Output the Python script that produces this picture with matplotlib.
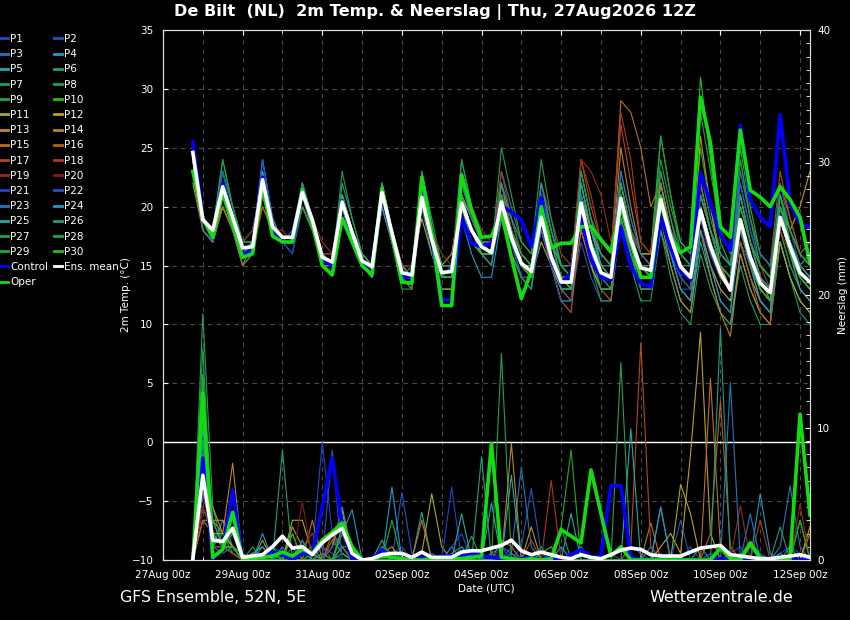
# GFS ensemble meteogram: 2m temperature + precipitation, De Bilt
import numpy as np
import pandas as pd
import matplotlib
matplotlib.use("Agg")
import matplotlib.pyplot as plt
import matplotlib.dates as mdates
from matplotlib.ticker import MultipleLocator


def vals(s):
    # "a | b c d e | ..." -> list of floats (| only separates days)
    return [float(v) for v in s.replace("|", " ").split()]


# 6-hourly forecast steps, 27Aug 18Z .. 12Sep 06Z
times = pd.date_range("2026-08-27 18:00", periods=63, freq="6h")

mean_temp = vals("""24.6 | 18.9 18.0 21.7 19.1 | 16.5 16.6 22.3 18.3 | 17.4 17.4 21.2 18.9 |
 15.7 15.3 20.4 17.8 | 15.4 14.9 21.2 17.8 | 14.4 14.2 20.8 17.2 | 14.4 14.5 20.3 18.0 |
 16.6 16.1 20.4 17.4 | 15.2 14.5 19.1 15.7 | 13.6 13.6 20.3 16.6 | 14.4 14.0 20.7 17.2 |
 14.8 14.6 20.6 17.4 | 14.9 14.0 19.7 16.6 | 14.4 12.9 18.9 15.7 | 13.5 12.7 19.1 16.6 | 14.4 13.6""")

control_temp = vals("""25.5 | 19.0 17.5 22.0 19.0 | 16.0 16.3 22.5 18.0 | 17.0 17.0 21.5 18.5 |
 15.5 15.0 20.5 17.5 | 15.0 14.8 21.0 17.5 | 14.0 14.0 21.5 17.0 | 12.1 12.1 19.1 16.9 |
 16.6 16.9 20.1 19.5 | 18.9 16.6 20.8 15.5 | 13.5 14.4 19.1 15.5 | 14.0 13.8 18.3 14.9 |
 13.5 13.2 19.1 16.5 | 14.5 13.8 22.9 20.3 | 17.6 16.3 26.9 20.6 | 19.1 18.3 27.8 20.3 | 18.6 18.2""")

oper_temp = vals("""23.0 | 19.0 17.4 21.2 18.5 | 15.7 16.0 21.8 17.5 | 17.0 17.0 21.5 18.5 |
 15.0 14.2 19.0 17.0 | 15.0 14.2 21.6 17.5 | 13.6 13.5 22.5 17.8 | 11.6 11.6 22.7 19.7 |
 17.4 17.5 19.5 15.7 | 12.2 14.5 20.0 16.5 | 16.9 16.9 18.3 18.3 | 17.2 16.2 20.0 17.0 |
 14.0 14.0 20.8 17.4 | 16.1 16.6 29.3 25.4 | 18.3 17.4 26.5 21.4 | 20.8 20.0 21.7 20.6 | 19.1 15.2""")

mean_prec = vals("""0.1 | 6.4 1.5 1.4 2.4 | 0.2 0.3 0.4 1.0 | 1.8 0.9 1.0 0.4 | 1.3 1.9 2.4 0.5 |
 0.0 0.1 0.4 0.5 | 0.5 0.2 0.6 0.2 | 0.2 0.2 0.6 0.7 | 0.7 0.9 1.1 1.5 | 0.7 0.4 0.6 0.4 |
 0.2 0.1 0.4 0.2 | 0.1 0.4 0.75 0.9 | 0.8 0.4 0.3 0.3 | 0.3 0.6 0.9 1.0 | 1.1 0.4 0.3 0.2 |
 0.1 0.1 0.2 0.3 | 0.4 0.2""")

control_prec = vals("""0 | 7.7 0.1 0.8 5.3 | 0 0 0.3 0.6 | 0.4 0 0.5 0.4 | 4.0 7.7 2.5 0 |
 0 0 0.8 0.2 | 0.1 0 0.2 0 | 0.3 0.3 0.4 0.5 | 0.3 0.2 0.1 0 | 0.1 0.2 0 0.2 |
 0 0.4 0.8 0.2 | 0.3 5.6 5.6 0.2 | 0 0 0.1 0 | 0 0 0 0 | 0.1 0 0 0 | 0 0 0 0 | 0 0.1""")

oper_prec = vals("""0 | 12.6 0.2 0.8 3.6 | 0 0.1 0.2 0.3 | 0.6 0.3 0.8 0.5 | 1.5 2.1 2.8 1.0 |
 0 0 0.3 0.2 | 0.1 0 0 0.1 | 0 0.1 0.1 0.2 | 0.3 8.8 0.2 0.1 | 0 0.1 0 0.1 |
 2.3 1.8 1.3 6.8 | 3.5 0.3 1.0 0 | 0 0 0 0 | 0 0 0 0 | 0.9 0.1 0 1.3 | 0.2 0 0 0.1 | 11.0 3.4""")

member_temp = [vals(s) for s in [
    "25 | 19 18 23 19 | 16 17 23 18 | 17 17 21 19 | 16 15 21 18 | 15 15 22 18 | 14 14 21 17 | 14 15 20 18 | 17 17 22 19 | 16 15 20 16 | 13 13 20 17 | 15 14 22 18 | 15 14 19 16 | 13 13 18 15 | 13 12 17 15 | 12 11 18 15 | 13 12",
    "25 | 19 18 22 19 | 16 16 22 19 | 17 18 22 19 | 16 15 21 18 | 16 15 21 17 | 14 13 20 17 | 15 15 21 19 | 17 16 21 18 | 15 14 18 15 | 12 12 17 14 | 12 12 19 16 | 14 14 21 18 | 15 14 20 17 | 14 13 19 16 | 14 13 20 17 | 15 14",
    "24 | 18 17 21 18 | 15 16 24 19 | 17 16 20 18 | 15 15 19 17 | 15 14 22 18 | 15 14 22 18 | 14 14 21 18 | 16 16 23 20 | 17 16 22 18 | 15 15 22 18 | 15 15 23 19 | 16 15 22 18 | 15 14 21 18 | 15 13 19 16 | 13 12 20 17 | 14 13",
    "25 | 19 18 22 19 | 16 17 24 19 | 17 17 21 19 | 15 15 21 18 | 16 15 21 18 | 14 14 22 17 | 13 13 19 16 | 14 14 19 17 | 14 13 20 17 | 15 15 21 18 | 16 15 20 17 | 15 14 21 17 | 15 15 22 18 | 15 14 20 17 | 15 14 21 17 | 15 16",
    "24 | 19 17 20 18 | 15 17 21 18 | 17 17 22 19 | 16 15 20 17 | 15 15 21 17 | 14 13 21 17 | 15 15 22 19 | 17 16 22 18 | 15 15 21 17 | 14 14 21 17 | 14 13 20 16 | 13 13 18 15 | 12 11 17 14 | 11 10 16 13 | 11 10 17 14 | 12 11",
    "25 | 19 18 24 20 | 17 18 22 18 | 17 17 21 19 | 16 15 22 19 | 16 15 22 18 | 15 14 23 19 | 15 15 24 20 | 18 17 21 18 | 15 14 18 15 | 13 13 19 15 | 13 13 20 17 | 14 14 22 18 | 15 15 23 19 | 16 15 22 18 | 15 14 21 18 | 16 15",
    "24 | 18 17 22 19 | 16 16 23 18 | 17 17 21 18 | 16 15 21 17 | 15 15 20 17 | 14 14 20 16 | 14 14 20 17 | 16 16 20 17 | 14 13 19 15 | 12 12 19 15 | 12 12 19 15 | 12 12 18 14 | 11 10 16 13 | 11 10 15 12 | 10 10 17 14 | 11 10",
    "25 | 19 18 21 19 | 16 16 22 18 | 17 17 21 19 | 16 16 20 18 | 16 15 21 18 | 14 15 20 17 | 14 14 19 17 | 16 16 21 19 | 16 15 20 17 | 15 15 23 19 | 17 16 22 18 | 16 16 24 20 | 17 16 22 18 | 15 14 20 17 | 15 14 19 16 | 14 13",
    "25 | 19 18 23 20 | 17 18 22 18 | 17 17 22 19 | 16 15 21 18 | 15 14 21 17 | 13 13 21 17 | 14 14 20 18 | 17 16 20 17 | 15 14 19 16 | 14 14 20 16 | 14 14 21 17 | 15 15 20 17 | 15 15 25 20 | 16 15 21 17 | 14 13 18 15 | 13 12",
    "24 | 19 18 21 18 | 16 16 21 18 | 17 17 20 18 | 16 15 19 17 | 15 15 21 18 | 15 14 21 18 | 15 15 21 18 | 17 16 21 18 | 16 15 21 17 | 14 14 22 18 | 15 14 21 18 | 16 16 26 21 | 17 16 31 24 | 17 15 25 20 | 16 15 21 18 | 16 15",
    "23 | 19 18 20 18 | 16 17 20 18 | 17 17 21 18 | 16 15 20 17 | 15 15 21 18 | 15 15 19 16 | 13 13 19 17 | 16 16 19 16 | 14 14 17 15 | 13 13 18 15 | 13 13 19 16 | 14 14 20 17 | 15 14 19 16 | 14 13 18 15 | 13 12 17 14 | 12 11",
    "24 | 19 18 21 19 | 17 17 22 18 | 17 17 21 19 | 16 15 20 18 | 16 15 21 18 | 15 14 20 18 | 15 16 21 19 | 17 17 20 17 | 15 14 19 16 | 14 13 21 18 | 16 15 22 18 | 16 16 22 18 | 15 14 18 15 | 13 12 17 14 | 12 11 20 18 | 20 23",
    "22 | 18 17 20 18 | 16 17 21 18 | 17 17 21 19 | 16 15 20 18 | 15 15 20 17 | 14 14 21 17 | 15 15 20 18 | 16 16 20 17 | 15 14 19 16 | 13 13 20 17 | 14 14 21 17 | 15 14 21 17 | 14 13 26 20 | 15 13 21 17 | 14 12 19 17 | 15 14",
    "24 | 18 17 21 19 | 16 16 22 18 | 17 17 21 19 | 16 15 20 18 | 15 15 21 18 | 14 14 21 17 | 14 14 19 17 | 16 16 21 17 | 15 14 19 16 | 14 14 21 17 | 15 15 25 20 | 16 15 19 15 | 12 11 18 14 | 11 9 16 13 | 11 10 19 17 | 15 14",
    "24 | 19 18 21 18 | 16 17 21 19 | 17 17 20 18 | 16 15 20 17 | 15 14 22 18 | 15 14 22 18 | 15 15 21 18 | 16 16 21 18 | 15 14 20 16 | 13 12 18 15 | 15 15 29 28 | 25 20 22 18 | 15 14 20 17 | 14 13 18 15 | 13 12 22 19 | 16 17",
    "23 | 18 17 20 18 | 15 16 21 18 | 17 17 22 19 | 16 15 21 18 | 15 15 20 17 | 14 14 22 18 | 14 14 19 17 | 16 15 22 18 | 15 14 18 15 | 12 11 19 16 | 13 12 20 16 | 13 13 19 16 | 13 12 22 18 | 15 13 17 14 | 11 10 19 16 | 13 12",
    "23 | 19 18 21 18 | 16 16 20 18 | 17 17 20 18 | 16 15 21 18 | 16 15 20 17 | 14 13 20 17 | 14 14 20 18 | 16 16 21 17 | 15 14 21 17 | 14 14 24 20 | 17 16 27 22 | 17 16 23 19 | 15 14 21 18 | 15 14 24 19 | 16 15 23 19 | 16 15",
    "24 | 19 18 22 19 | 16 16 21 18 | 17 17 21 18 | 16 16 20 18 | 16 15 21 18 | 15 14 20 17 | 14 14 20 18 | 17 16 23 19 | 16 15 22 19 | 16 15 24 21 | 17 16 28 24 | 17 16 20 17 | 15 14 19 16 | 14 13 20 17 | 15 13 19 17 | 15 14",
    "24 | 19 18 21 19 | 16 17 22 18 | 18 17 21 19 | 17 16 21 18 | 16 15 21 18 | 15 15 21 18 | 16 15 22 19 | 18 17 21 18 | 15 14 19 16 | 14 14 24 23 | 21 17 21 18 | 16 15 21 18 | 16 15 19 16 | 14 13 19 16 | 14 13 18 16 | 14 13",
    "24 | 19 18 22 19 | 17 18 21 19 | 17 17 21 19 | 16 15 20 18 | 15 15 21 18 | 15 15 22 18 | 15 15 23 20 | 18 17 21 18 | 15 14 20 17 | 14 14 21 17 | 15 14 20 17 | 15 14 20 17 | 15 14 18 16 | 14 13 20 17 | 14 13 19 16 | 14 13",
    "25 | 19 17 22 19 | 16 16 23 18 | 17 16 21 19 | 16 15 21 18 | 15 15 22 18 | 14 14 21 18 | 14 14 20 18 | 17 16 20 17 | 14 14 19 16 | 13 13 19 16 | 14 14 20 17 | 14 14 19 16 | 13 12 18 15 | 12 11 18 15 | 12 11 20 17 | 14 13",
    "25 | 19 18 23 19 | 17 17 24 19 | 17 17 21 19 | 16 15 21 18 | 15 15 22 18 | 14 14 20 17 | 14 15 21 18 | 16 15 20 17 | 14 13 18 15 | 12 12 20 17 | 15 15 21 17 | 14 14 20 16 | 14 13 19 16 | 14 13 22 18 | 15 14 22 18 | 15 14",
    "24 | 18 17 21 18 | 16 17 22 18 | 17 17 22 19 | 16 15 21 18 | 15 15 21 18 | 14 14 20 17 | 15 15 22 19 | 17 17 21 18 | 16 15 20 17 | 14 14 21 17 | 15 15 23 19 | 16 15 21 17 | 15 14 21 18 | 15 14 23 19 | 16 15 20 17 | 15 14",
    "25 | 19 18 22 19 | 16 16 23 19 | 17 17 21 19 | 16 15 20 17 | 15 14 20 17 | 14 14 22 18 | 14 14 21 18 | 16 16 20 17 | 15 14 22 18 | 15 14 23 19 | 15 14 20 17 | 15 14 21 18 | 16 15 21 18 | 16 15 20 17 | 14 13 20 17 | 15 14",
    "25 | 19 18 22 19 | 16 17 22 18 | 17 17 21 19 | 16 15 21 18 | 16 15 21 18 | 14 14 21 18 | 15 15 21 18 | 16 16 20 17 | 15 15 20 17 | 14 13 22 18 | 15 14 21 17 | 15 14 19 16 | 13 12 18 15 | 12 11 19 15 | 12 11 19 16 | 13 12",
    "24 | 19 18 22 19 | 16 17 22 18 | 17 17 21 19 | 16 15 21 18 | 16 15 22 18 | 15 14 21 18 | 15 15 20 18 | 16 15 22 19 | 17 16 21 18 | 15 14 20 17 | 14 14 19 16 | 14 14 23 19 | 16 15 20 17 | 15 14 21 17 | 14 13 19 16 | 14 13",
    "25 | 19 18 22 19 | 16 16 22 18 | 17 17 20 18 | 16 15 20 17 | 15 15 21 18 | 14 14 21 17 | 14 14 20 17 | 16 16 19 16 | 14 13 19 16 | 13 13 20 16 | 13 13 19 16 | 13 13 21 18 | 15 14 20 17 | 14 13 18 15 | 13 12 20 17 | 14 13",
    "25 | 19 18 24 20 | 17 17 22 18 | 17 17 21 19 | 16 15 23 19 | 16 15 21 17 | 14 14 23 18 | 14 14 24 20 | 17 16 25 21 | 17 16 24 19 | 15 14 23 19 | 16 15 22 18 | 15 14 26 21 | 16 15 28 23 | 18 16 24 19 | 15 14 21 17 | 15 14",
    "25 | 19 18 22 19 | 16 17 22 18 | 17 17 21 19 | 16 15 20 17 | 15 15 21 18 | 14 14 22 18 | 15 15 20 18 | 17 16 21 18 | 16 15 20 17 | 15 14 20 17 | 15 14 21 17 | 15 14 20 17 | 15 14 21 18 | 15 14 20 17 | 15 14 21 18 | 16 15",
    "25 | 19 18 22 19 | 16 17 22 18 | 17 17 21 19 | 16 15 21 18 | 15 15 21 18 | 14 14 21 18 | 14 14 21 18 | 16 16 20 17 | 15 14 19 16 | 14 13 20 17 | 14 14 20 17 | 14 14 20 17 | 15 14 20 17 | 14 13 19 16 | 13 12 19 16 | 14 13",
]]

member_prec = [vals(s) for s in [
    "0 | 8 2 1 0.5 | 0 0 0.5 1 | 0.5 0 1 0.5 | 8.9 2 0.5 0 | 0 0 0 0.5 | 1 0 0.5 0 | 0 1 2 0 | 0 0.5 0 1 | 0 0 0 0.5 | 0 0 0.5 0 | 0 0 0 1 | 0.5 0 0 0 | 0 1 0 0 | 0 0.5 1 0 | 0 0 0.5 1 | 0.5 0",
    "0 | 5 3 1 1 | 0 0 0 0.5 | 0 0 0.5 0 | 1 0.5 0 0 | 0 0 0 0 | 5.1 0.5 0 0 | 0 0 1 0 | 0 0 0.5 0 | 1 5.4 0.5 0 | 0 0 0 0 | 0 0.5 0 0 | 0 0 0.5 0 | 0 0 0 0.5 | 0 0 0 0 | 0.5 0 0 0 | 0 0.5",
    "0 | 9 2 2 1 | 0 0 1 0 | 0 1 0 0 | 0.5 0 1 0 | 0 0 0.5 0 | 0 0 0 0.5 | 0 0 0 0 | 0 0.5 1 0.5 | 7 1 0 0 | 0 0 0.5 0 | 0 0 0 0 | 0 1 0 0 | 0 0 0 0 | 0 0 0.5 0 | 0 0 1 5.6 | 1 0",
    "0 | 6 1 3 1 | 0 0 2 0 | 0 0 0.5 1 | 0 1 2 3.8 | 0 0 0 0 | 0 0 0 0 | 0 0 0.5 0 | 0 0 0 0.5 | 0 0 0 0 | 1 0 0 0 | 0 0 0 0 | 0 0 0 0 | 0 0 1 0 | 0 0 0 0 | 5 0.5 0 0 | 0 0",
    "0 | 12 3 1 2 | 0 0.5 0 0 | 1 0 0 0 | 0 1 4 0.5 | 0 0 1.5 0 | 0 0 3.6 0 | 0 0 0 0.5 | 0 4.3 0 0 | 0 0 0 0 | 0 3.5 0 0 | 0 0 0 0 | 0 0 0 0 | 0 0 0 0 | 0 0 0 1 | 0 0 0.5 0 | 0 0",
    "0 | 14 2 1 1 | 0 0 0 0.5 | 0 0 0 0 | 0 0 0.5 0 | 0 0 0 0 | 0 0 0 0 | 0 0.5 1 0 | 7.8 0 0 0 | 0 0 1 0 | 0 0 1 0 | 0 0 0 0 | 0 0 4 0 | 0 0 0 0 | 0 0 0 0 | 0 0 0 1 | 0 0",
    "0 | 18.6 4 1 2 | 0 0 0 0 | 0.5 0 0 0 | 0 0 1 0 | 0 0 0 0 | 0 0 0 0 | 0 0 0 1.8 | 0 0 0 0 | 0 0 0 0 | 0 0 0 0 | 0 0 0 0 | 0 0 0 0.5 | 0 0 0 0 | 0 0 0 0 | 0 0 2.5 0 | 0 0",
    "0 | 16 1 2 1 | 0 0 0 0 | 0 0 0 0 | 0 0 0 0 | 0 0 0 0 | 0 0 0 0 | 0 0 0 0 | 0 0 15.6 0 | 0 0 0 0 | 0 0 0 0 | 0 0 0 0 | 0 0 0 0 | 0 0 0 0 | 0 0 0 0 | 0 0 0 0 | 0 0",
    "0 | 13 2 2 0.5 | 0 0 0 1 | 0 0 0 0 | 0 0 0 0 | 0 0 0 3 | 0 0 0 0 | 0 0 0 0 | 0 0 0 0 | 0 0 0 0 | 2.5 8.3 0 0 | 0 0 0 0 | 0 0 0 0 | 0 0 0 0 | 0 0 0 0 | 0 0 0 0 | 3 0",
    "0 | 11 1 1 0.5 | 0 0.5 1 0 | 0 2 0 0.5 | 0 1.5 0.5 0 | 0 0 1 0 | 0 0 0 0 | 0 0 0 0 | 0 0 0 0 | 0 0 0 0 | 0 0 0 0 | 0 0 0 0 | 0 0 0 0 | 0 0 0 0 | 0 0 0 0 | 0 0 0 0 | 0 0",
    "0 | 4 2 2 1 | 0 0.5 0 0 | 0 3 3 0.5 | 0 0 0 0 | 0 0 0 0 | 0 0 0.5 5 | 1 0 0 0 | 0 0 0 0 | 0 0 0 0 | 0 0 0 0 | 0 0 0 0 | 0 0 0 0 | 5.7 3.5 0 0 | 0 0 0 0 | 0 0 0 0 | 0 0",
    "0 | 3 3 3 2 | 0 0 0 0 | 0 0 0 0 | 0 0 0 0 | 0 0 0 0 | 0 0 0 0 | 0 0 0 0 | 0 0 0 0 | 0 0 0 0 | 0 0 0 0 | 0 0 0 0 | 0 0 1 2 | 0.5 8 17.2 2 | 0 0 0 0 | 0 0 0 0 | 0 2.5",
    "0 | 5 4 2 1 | 0 0 1.5 0 | 0 2.5 1 0 | 0 1 3.7 0 | 0 0 0.5 1 | 0 0 0 0 | 0 0 0 0 | 0 0 0 0 | 0 2.5 0 0 | 0 0 0 0 | 0 0 0 0 | 0 0 0 0 | 0 0 0 0 | 0 0 0 0 | 0 0 0 0 | 0 0",
    "0 | 6 3 2 7.3 | 0 0 0 0 | 0 0 0 0 | 0 0 2 0 | 0 0 0 0 | 0 0 0 0 | 0 0 0 0 | 0 0 0 8.8 | 0 0 0 0 | 0 0 0 0 | 0 0 0 0 | 0 0 0 0 | 0 0 0 0 | 0 0 0 0 | 0 0 0 0 | 0 0",
    "0 | 4 2 1 1 | 0 0 0 0 | 0 0 0 3 | 0 0 0 0 | 0 0 0 0 | 0 0 3 0 | 0 0 0 0 | 0 0 0 0 | 0 0 0 0 | 0 0 0 0 | 0 0 0 0 | 0 2.8 0 0 | 0 0 0 13.7 | 1 0 0 0 | 0 0 0 0 | 0 2",
    "0 | 3 2 1 1 | 0 0 0 0 | 0 0 1 0.5 | 0 2 1 0 | 0 0 0 0 | 0 0 0 0 | 0 0 0 0 | 0 0 1.5 1 | 0 0 0 0 | 0 0 0 0 | 0 0 0 0 | 0 0 0 0 | 0 0 0 2 | 12 1 0 0 | 0 0 0 0 | 0 0",
    "0 | 5 2 1 0.5 | 0 0.5 0 0 | 0 0 0 0 | 0 1.5 2.5 0 | 0 0 0 0 | 0 0 0 0 | 0 0 0 0 | 0 0 0 0 | 0 1.5 0 0 | 0 0 0 0 | 0 0 0 1 | 16.4 1 0 0 | 0 0 0 0 | 0 0 0 0 | 0 0 0 0 | 0 0",
    "0 | 7 1 1 0.5 | 0 0 0 0 | 0 0 1 2 | 1 0 0 0 | 0 0 0 0 | 0 0 0 0 | 0 0 0 0 | 0 0 0 0 | 0 0 0 6 | 0 0 0 0 | 0 0 0 0 | 0 0 0 0 | 0 0 0 0 | 0 0 0 0 | 3 0 0 0 | 0 0",
    "0 | 6 2 1 1 | 0 0 0 0 | 0 0 0 0 | 0 0 0 0 | 0 0 0 0 | 0 0 0 0 | 0 0 0 0 | 0 0 0 0 | 0 0 0 0 | 0 0 0 0 | 0 0 0 0 | 0 0 0 0 | 0 0 0 0 | 0 0 4.1 0 | 0 0 0 0 | 4.2 0",
    "0 | 4 2 1 1 | 0 0 0 0 | 0 0 4.4 0 | 0 0 0 0 | 0 0 0 0 | 0 0 0 0 | 0 0 0 0 | 0 0 0 0 | 0 0 0 0 | 0 0 0 0 | 0 0 0 0 | 0 0 0 0 | 0 0 0 0 | 0 0 0 0 | 0 0 0 0 | 0 0",
    "0 | 7 2 1 1 | 0 0 0 0 | 1 0 0 0 | 0 1 2 1 | 0 0 0 0 | 0 0 0 0 | 0 5.5 0 0 | 0.5 0 1 0 | 0 0 0 0 | 0 0 0 0 | 0 0 0 0 | 0 0 0 0 | 0 0 0 0 | 0 0 0 0 | 0 0 0 0 | 0 0",
    "0 | 5 2 1 1 | 0 0 0 0 | 0 0 0 0 | 0 8.3 0 0 | 0 0 0 0 | 0 0 0 0 | 0 0 0 0 | 0 7.9 0 0 | 0 0 0 0 | 0 0 0 0 | 0 0 0 0 | 0 0 0 0 | 3 0 0 0 | 0 0 0 0 | 0 0 0 0 | 0 0",
    "0 | 9 1 0.5 1 | 0 0 0 0 | 0 0 0 0 | 0 0 2 0.5 | 0 0 0 0 | 0 0 0 0 | 0 1 0 0 | 0 0 0 0 | 0 0 0 0 | 0 0 0 0 | 0 0 0 0 | 0 0 0 0 | 0 0 0 0 | 0 13.4 0 3.5 | 0 0 0 0 | 0 0",
    "0 | 8 2 1 1 | 0 0.5 1 0 | 0 0 1.5 0 | 0 0 0 0 | 0 0 0 5.5 | 0 0 0 0 | 0 0 0 0 | 0 0 0 0 | 0 0 0 0 | 0 0 0 0 | 0 0 0 0 | 0 0 4 0 | 0 0 0 0 | 0 0 0 0 | 0 0 0 0 | 0 0",
    "0 | 10 2 1 1 | 0 0 0 0 | 0 0 0 0 | 0 0 0 0 | 0 0 0 0 | 0 0 0 0 | 0 0 3.5 0 | 0 0 0 6.4 | 0 0 0 0 | 0 0 0 0 | 0 0 0 9.9 | 0 0 0 0 | 0 0 0 0 | 0 0 0 0 | 0 0 0 0 | 0 0",
    "0 | 12 2 1 1 | 0 0 0 0 | 8.3 0 0 0 | 0 0 0 0 | 0 0 0 0 | 0 0 0 0 | 0 0 0 0 | 0 0 0 0 | 0 0 0 0 | 0 0 0 0 | 0 0 0 0 | 0 0 0 0 | 0 0 0 0 | 17.5 0 0 0 | 0 0 0 0 | 0 0",
    "0 | 6 2 1 1 | 0 1 0 0.5 | 0 0 0 0 | 0.5 0 1 1 | 0 0 0 0 | 0 0 0 0 | 0 0 0 0 | 0 0 0 0 | 0 0 0 0 | 0 0 1 0 | 0 0 14.9 0 | 0 0 0 0 | 0 0 0 0 | 0 0 0 0 | 0 0 0 0 | 0 0",
    "0 | 9 2 1 1 | 0 0 0 0 | 0 0 0 0 | 0 0 0 0 | 0 0 0 0 | 0 0 0 0 | 0 0 0 0 | 0 0 0 0 | 0 0 0 0 | 2.5 0 0 0 | 0 0 0 0 | 0 0 0 0 | 0 0 0 0 | 0 0 0 0 | 0 0 0 0 | 0 0",
    "0 | 14 2 1 1 | 0 0 0 0 | 0 2 0 0 | 0 0 0 0 | 0 0 1 0.5 | 0 0 0 0 | 0 0 0 0 | 0 0 0 0 | 0 0 0 0 | 0 0 0 0 | 0 0 0 0 | 0 0 0 0 | 0 0 0 0 | 0 0 0 0 | 0 0 0 0 | 3 0",
    "0 | 7 2 1 1 | 0.5 0 0 0 | 0 0 0 0 | 0 0 2.5 0 | 0 0 0 0 | 0 0 0 0 | 0 0 0 0 | 0 0 0 0 | 0 0 0.5 1 | 0 0 0 0 | 0 0 0 0 | 0 0 0 0 | 0 0 0 0 | 0 0 0 0 | 0 0 0 0 | 0 0",
]]

# P1..P20 colours, P21..P30 repeat P1..P10
member_colors = ["#2244cc", "#1f55c4", "#2277bb", "#1f99c8", "#1faaaa",
                 "#1a9f80", "#1f9f60", "#1fa048", "#22aa30", "#28bb1c",
                 "#aaaa1a", "#bba21a", "#bb921c", "#bb861c", "#bb701c",
                 "#b8601a", "#b04a1a", "#aa3a1a", "#992a1a", "#881a14"]

series = [("mean_temp", mean_temp), ("control_temp", control_temp), ("oper_temp", oper_temp),
          ("mean_prec", mean_prec), ("control_prec", control_prec), ("oper_prec", oper_prec)]
series += [(f"P{k+1} temp", m) for k, m in enumerate(member_temp)]
series += [(f"P{k+1} prec", m) for k, m in enumerate(member_prec)]
for name, s in series:
    if len(s) != len(times):
        raise ValueError(f"{name} has {len(s)} values")

fg = "white"
fig = plt.figure(figsize=(8.5, 6.2), dpi=100, facecolor="black")
ax = fig.add_axes([163 / 850, 60 / 620, 647 / 850, 530 / 620], facecolor="black")
ax2 = ax.twinx()

# temperature
handles = []
for k in range(30):
    ln, = ax.plot(times, member_temp[k], color=member_colors[k % 20], lw=0.8, label=f"P{k+1}")
    handles.append(ln)
h_ctrl, = ax.plot(times, control_temp, color="#0000ff", lw=2.6, label="Control")
h_oper, = ax.plot(times, oper_temp, color="#11dd11", lw=2.6, label="Oper")
h_mean, = ax.plot(times, mean_temp, color="white", lw=2.6, label="Ens. mean")
ax.axhline(0, color="white", lw=1.0, zorder=1)

# precipitation
for k in range(30):
    ax2.plot(times, member_prec[k], color=member_colors[k % 20], lw=0.8)
ax2.plot(times, control_prec, color="#0000ff", lw=2.6)
ax2.plot(times, oper_prec, color="#11dd11", lw=2.6)
ax2.plot(times, mean_prec, color="white", lw=2.6)

ax.set_xlim(pd.Timestamp("2026-08-27 00:00"), pd.Timestamp("2026-09-12 06:00"))
ax.set_ylim(-10, 35)
ax2.set_ylim(0, 40)

ax.set_xticks(pd.date_range("2026-08-27", "2026-09-12", freq="2D"))
ax.set_xticks(pd.date_range("2026-08-27", "2026-09-12", freq="D"), minor=True)
ax.xaxis.set_major_formatter(mdates.DateFormatter("%d%b %Hz"))
ax.yaxis.set_major_locator(MultipleLocator(5))
ax2.yaxis.set_major_locator(MultipleLocator(10))
ax2.yaxis.set_minor_locator(MultipleLocator(1))

grid_kw = dict(color="#4a4a4a", linestyle=(0, (4, 4)), lw=0.8)
ax.grid(True, which="both", axis="x", **grid_kw)
ax.grid(True, which="major", axis="y", **grid_kw)
ax.set_axisbelow(True)

ax.tick_params(which="both", direction="in", colors=fg, labelsize=7.5, top=True, pad=7)
ax.tick_params(axis="x", pad=7)
ax2.tick_params(which="both", direction="in", colors=fg, labelsize=7.5, pad=5)
ax2.tick_params(which="minor", length=3)
for a in (ax, ax2):
    for sp in a.spines.values():
        sp.set_color("#dddddd")

ax.set_ylabel("2m Temp. (°C)", color=fg, fontsize=7.5, labelpad=0)
ax2.set_ylabel("Neerslag (mm)", color=fg, fontsize=7.5, labelpad=6)
ax.set_xlabel("Date (UTC)", color=fg, fontsize=7.5, labelpad=3)

fig.text(435 / 850, 1 - 12 / 620, "De Bilt  (NL)  2m Temp. & Neerslag | Thu, 27Aug2026 12Z",
         color=fg, fontsize=11.6, fontweight="bold", ha="center", va="center")
fig.text(120 / 850, 1 - 598 / 620, "GFS Ensemble, 52N, 5E", color=fg, fontsize=11.4,
         ha="left", va="center")
fig.text(793 / 850, 1 - 598 / 620, "Wetterzentrale.de", color=fg, fontsize=11.4,
         ha="right", va="center")

# legend: two columns filled row by row (P1 P2 / P3 P4 / ...)
col1 = handles[0::2] + [h_ctrl, h_oper]
col2 = handles[1::2] + [h_mean]
leg_handles = col1 + col2
leg = fig.legend(handles=leg_handles, labels=[h.get_label() for h in leg_handles],
                 loc="upper left", bbox_to_anchor=(0.0, 1 - 34 / 620), ncol=2,
                 frameon=False, fontsize=7.5, handlelength=0.8, handletextpad=0.15,
                 columnspacing=0.6, labelspacing=0.5, borderpad=0, borderaxespad=0)
for t in leg.get_texts():
    t.set_color(fg)
for lh in leg.legend_handles:
    lh.set_linewidth(2)

fig.savefig("out.png", dpi=100, facecolor="black")
